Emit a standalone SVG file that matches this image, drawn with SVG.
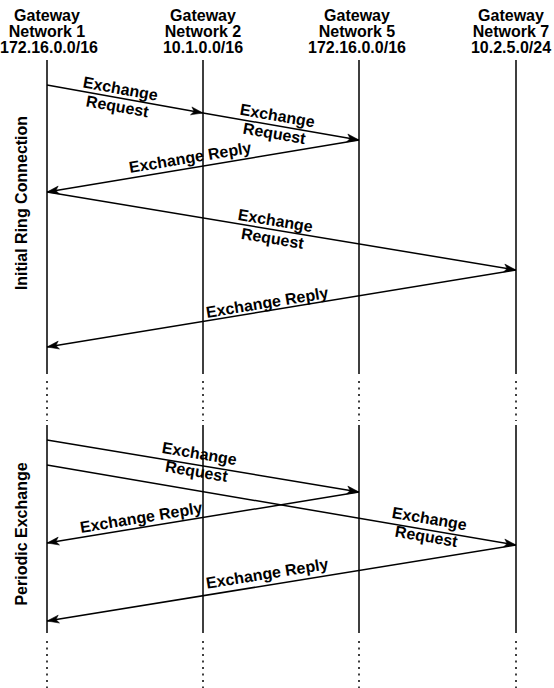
<svg xmlns="http://www.w3.org/2000/svg" width="554" height="688" viewBox="0 0 554 688">
<style>
text{font-family:"Liberation Sans",Arial,Helvetica,sans-serif;font-weight:bold;font-size:16px;fill:#000;text-anchor:middle}
.life{stroke:#000;stroke-width:1.5;fill:none}
.dot{stroke:#000;stroke-width:1.5;fill:none;stroke-dasharray:2 4.5}
.msg{stroke:#000;stroke-width:1.5;fill:none;marker-end:url(#ah)}
</style>
<defs>
<marker id="ah" markerUnits="userSpaceOnUse" markerWidth="13" markerHeight="9" refX="12" refY="4" orient="auto" overflow="visible">
<path d="M0,0 L12,4 L0,8 L3,4 z" fill="#000" stroke="#000" stroke-width="0.5"/>
</marker>
</defs>
<rect width="554" height="688" fill="#fff"/>
<g id="gw1">
<text x="47" y="21"><tspan x="47">Gateway</tspan><tspan x="47" dy="16">Network 1</tspan><tspan x="49" dy="16">172.16.0.0/16</tspan></text>
<path class="life" d="M47,60V374M47,425V633"/><path class="dot" d="M47,381V421M47,641V688"/>
</g>
<g id="gw2">
<text x="203" y="21"><tspan x="203">Gateway</tspan><tspan x="203" dy="16">Network 2</tspan><tspan x="203" dy="16">10.1.0.0/16</tspan></text>
<path class="life" d="M203,60V374M203,425V633"/><path class="dot" d="M203,381V421M203,641V688"/>
</g>
<g id="gw5">
<text x="357" y="21"><tspan x="357">Gateway</tspan><tspan x="357" dy="16">Network 5</tspan><tspan x="357" dy="16">172.16.0.0/16</tspan></text>
<path class="life" d="M359,60V374M359,425V633"/><path class="dot" d="M359,381V421M359,641V688"/>
</g>
<g id="gw7">
<text x="511" y="21"><tspan x="511">Gateway</tspan><tspan x="511" dy="16">Network 7</tspan><tspan x="511" dy="16">10.2.5.0/24</tspan></text>
<path class="life" d="M516,60V374M516,425V633"/><path class="dot" d="M516,381V421M516,641V688"/>
</g>
<g id="phase-labels">
<text transform="translate(26.5,203) rotate(-90)">Initial Ring Connection</text>
<text transform="translate(26.5,534) rotate(-90)">Periodic Exchange</text>
</g>
<g id="connectors">
<path class="msg" d="M47,85L203,113"/>
<path class="msg" d="M203,113L359,140"/>
<path class="msg" d="M359,140L47,192"/>
<path class="msg" d="M47,192L516,270"/>
<path class="msg" d="M516,270L47,347"/>
<path class="msg" d="M47,440L359,492"/>
<path class="msg" d="M47,465L516,545"/>
<path class="msg" d="M359,492L47,543"/>
<path class="msg" d="M516,545L47,621"/>
<text transform="translate(119,97) rotate(10.2)"><tspan x="0" y="-3">Exchange</tspan><tspan x="0" y="15">Request</tspan></text>
<text transform="translate(276,124) rotate(9.8)"><tspan x="0" y="-3">Exchange</tspan><tspan x="0" y="15">Request</tspan></text>
<text transform="translate(190,157) rotate(-9.5)" y="6">Exchange Reply</text>
<text transform="translate(274,229) rotate(9.4)"><tspan x="0" y="-3">Exchange</tspan><tspan x="0" y="15">Request</tspan></text>
<text transform="translate(267,302) rotate(-9.3)" y="6">Exchange Reply</text>
<text transform="translate(198,462) rotate(9.5)"><tspan x="0" y="-3">Exchange</tspan><tspan x="0" y="15">Request</tspan></text>
<text transform="translate(428,527) rotate(9.7)"><tspan x="0" y="-3">Exchange</tspan><tspan x="0" y="15">Request</tspan></text>
<text transform="translate(141,517) rotate(-9.3)" y="6">Exchange Reply</text>
<text transform="translate(267,573) rotate(-9.2)" y="6">Exchange Reply</text>
</g>
</svg>
